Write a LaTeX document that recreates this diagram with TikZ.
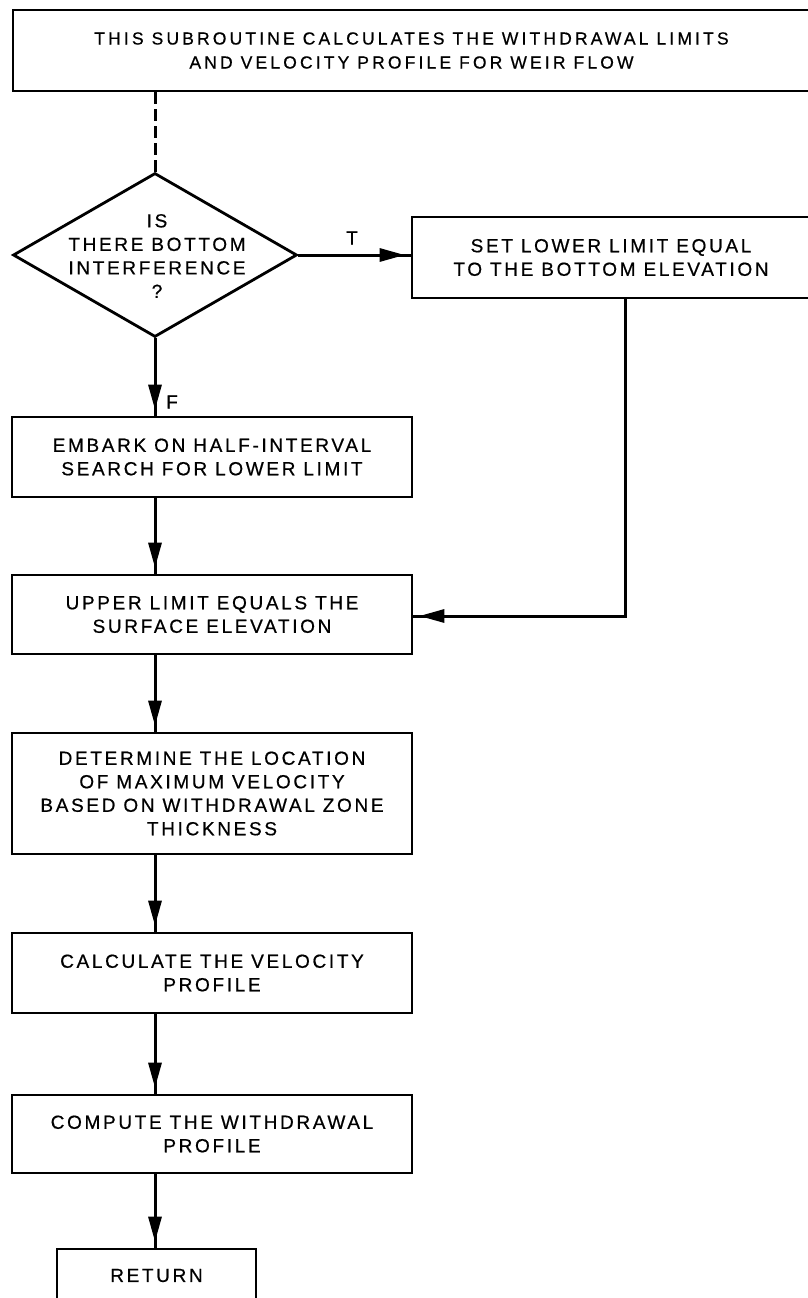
\documentclass[tikz,border=0pt]{standalone}
\usepackage{fontspec}
\setmainfont{Liberation Sans}
\newfontfamily\boxfont[LetterSpace=14,FakeBold=0.6]{Liberation Sans}
\newfontfamily\topfont[LetterSpace=18,FakeBold=0.6]{Liberation Sans}
\usetikzlibrary{shapes.geometric,arrows.meta,decorations.markings}
\begin{document}
\begin{tikzpicture}[x=1pt,y=-1pt,
  box/.style={draw, line width=2.6pt, rectangle, inner sep=0pt, align=center,
    font=\boxfont\fontsize{19}{23.5}\selectfont},
  flow/.style={line width=3pt, postaction={decorate},
    decoration={markings, mark=at position -6pt with {\arrow{Triangle[length=25pt,width=13pt]}}}},
  lbl/.style={inner sep=0pt, align=center, font=\boxfont\fontsize{19}{23.5}\selectfont}
]
\useasboundingbox (0,0) rectangle (808,1298);
% boxes
\node[box, font=\topfont\fontsize{17.5}{24}\selectfont, minimum width=797pt, minimum height=81pt] (top) at (411.5,50.5)
  {THIS SUBROUTINE CALCULATES THE WITHDRAWAL LIMITS\\AND VELOCITY PROFILE FOR WEIR FLOW};
\node[draw, diamond, line width=2.8pt, minimum width=284pt, minimum height=164pt, inner sep=0pt] (d) at (155,255) {};
\node[lbl] (dtext) at (157,256) {IS\\THERE BOTTOM\\INTERFERENCE\\?};
\node[box, minimum width=398pt, minimum height=81pt] (set) at (611,257.5)
  {SET LOWER LIMIT EQUAL\\TO THE BOTTOM ELEVATION};
\node[box, minimum width=400pt, minimum height=80pt] (embark) at (212,457)
  {EMBARK ON HALF-INTERVAL\\SEARCH FOR LOWER LIMIT};
\node[box, minimum width=400pt, minimum height=79pt] (upper) at (212,614.5)
  {UPPER LIMIT EQUALS THE\\SURFACE ELEVATION};
\node[box, minimum width=400pt, minimum height=121pt] (determine) at (212,793.5)
  {DETERMINE THE LOCATION\\OF MAXIMUM VELOCITY\\BASED ON WITHDRAWAL ZONE\\THICKNESS};
\node[box, minimum width=400pt, minimum height=80pt] (calc) at (212,973)
  {CALCULATE THE VELOCITY\\PROFILE};
\node[box, minimum width=400pt, minimum height=78pt] (compute) at (212,1134)
  {COMPUTE THE WITHDRAWAL\\PROFILE};
\node[box, minimum width=199pt, minimum height=53pt] (ret) at (156.5,1275.5) {RETURN};
% labels
\node[lbl] (tlab) at (352,238) {T};
\node[lbl] (flab) at (172,402) {F};
% connectors
\draw[line width=3pt, dash pattern=on 12pt off 5pt] (top.south -| d.north) -- (d.north);
\draw[flow] (d.east) -- (set.west |- d.east);
\draw[flow] (d.south) -- (embark.north -| d.south);
\draw[flow] (embark.south -| d.south) -- (upper.north -| d.south);
\coordinate (corner) at (625,616);
\draw[flow, line join=miter] (set.south -| corner) -- (corner) -- (upper.east |- corner);
\draw[flow] (upper.south -| d.south) -- (determine.north -| d.south);
\draw[flow] (determine.south -| d.south) -- (calc.north -| d.south);
\draw[flow] (calc.south -| d.south) -- (compute.north -| d.south);
\draw[flow] (compute.south -| d.south) -- (ret.north -| d.south);
\end{tikzpicture}
\end{document}
